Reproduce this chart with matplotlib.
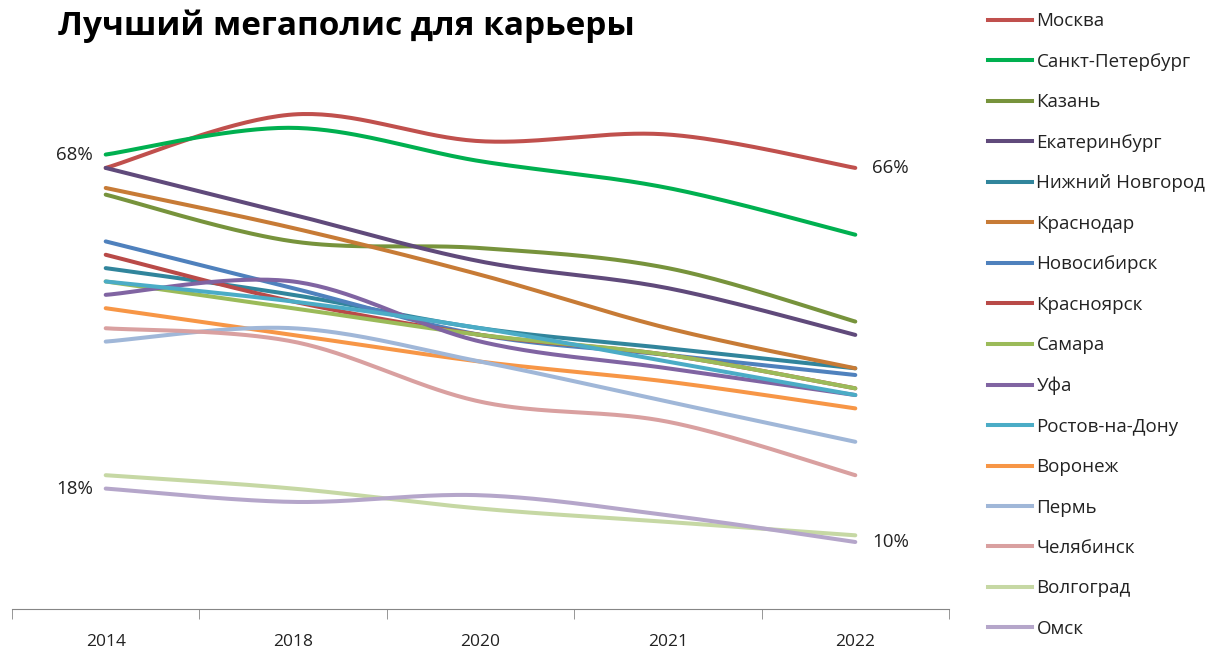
import numpy as np
import matplotlib
matplotlib.use("Agg")
import matplotlib.pyplot as plt
from matplotlib.lines import Line2D

plt.rcParams["font.family"] = ["Open Sans", "DejaVu Sans"]

# ── данные (%) ─────────────────────────────────────────────────────────────
years = ["2014", "2018", "2020", "2021", "2022"]

cities = [
    "Москва", "Санкт-Петербург", "Казань", "Екатеринбург", "Нижний Новгород",
    "Краснодар", "Новосибирск", "Красноярск", "Самара", "Уфа",
    "Ростов-на-Дону", "Воронеж", "Пермь", "Челябинск", "Волгоград", "Омск",
]

moscow      = [66, 74, 70, 71, 66]
spb         = [68, 72, 67, 63, 56]
kazan       = [62, 55, 54, 51, 43]
ekb         = [66, 59, 52, 48, 41]
nnov        = [51, 47, 42, 39, 36]
krasnodar   = [63, 57, 50, 42, 36]
novosib     = [55, 48, 41, 38, 35]
krasnoyarsk = [53, 46, 41, 38, 33]
samara      = [49, 45, 41, 38, 33]
ufa         = [47, 49, 40, 36, 32]
rostov      = [49, 46, 42, 37, 32]
voronezh    = [45, 41, 37, 34, 30]
perm        = [40, 42, 37, 31, 25]
chelyab     = [42, 40, 31, 28, 20]
volgograd   = [20, 18, 15, 13, 11]
omsk        = [18, 16, 17, 14, 10]

values = [moscow, spb, kazan, ekb, nnov, krasnodar, novosib, krasnoyarsk,
          samara, ufa, rostov, voronezh, perm, chelyab, volgograd, omsk]

colors = ["#C0504D", "#00B050", "#77933C", "#604A7B", "#31859C",
          "#C77B36", "#4F81BD", "#B94A48", "#9BBB59", "#8064A2",
          "#4BACC6", "#F79646", "#A0B7D8", "#D9A0A0", "#C6D8A4", "#B5A6CA"]


def smooth(xs, ys, n=40):
    """Сглаженная линия как в Excel (Безье через точки, касательные Catmull-Rom)."""
    p = np.column_stack([xs, ys]).astype(float)
    p = np.vstack([p[0], p, p[-1]])
    out = []
    t = np.linspace(0, 1, n)[:, None]
    for i in range(1, len(p) - 2):
        p0, p1, p2, p3 = p[i - 1], p[i], p[i + 1], p[i + 2]
        c1 = p1 + (p2 - p0) / 6
        c2 = p2 - (p3 - p1) / 6
        seg = (1 - t) ** 3 * p1 + 3 * (1 - t) ** 2 * t * c1 + 3 * (1 - t) * t ** 2 * c2 + t ** 3 * p2
        out.append(seg if i == 1 else seg[1:])
    out = np.vstack(out)
    return out[:, 0], out[:, 1]


W, H = 1218, 648
fig = plt.figure(figsize=(W / 100, H / 100), dpi=100)
ax = fig.add_axes([12 / W, 1 - 608.8 / H, (949 - 12) / W, (608.8 - 74.4) / H])

x = np.arange(len(years))
handles = []
for name, vals, col in zip(cities, values, colors):
    sx, sy = smooth(x, vals)
    ax.plot(sx, sy, color=col, lw=2.9, solid_capstyle="round")
    handles.append(Line2D([0], [0], color=col, lw=2.9, label=name))

ax.set_xlim(-0.5, len(years) - 0.5)
ax.set_ylim(0, 80)
for s in ["left", "right", "top"]:
    ax.spines[s].set_visible(False)
ax.spines["bottom"].set_color("#868686")
ax.set_yticks([])
ax.set_xticks(x)
ax.set_xticklabels(years, fontsize=12.5, color="#222222")
ax.set_xticks(np.arange(-0.5, len(years)), minor=True)
ax.tick_params(axis="x", which="major", length=0, pad=18)
ax.tick_params(axis="x", which="minor", length=7, color="#868686")

# подписи значений
lab = dict(fontsize=13.5, color="#222222", va="center", textcoords="offset points")
ax.annotate(f"{spb[0]}%", (0, spb[0]), xytext=(-9, 0), ha="right", **lab)
ax.annotate(f"{omsk[0]}%", (0, omsk[0]), xytext=(-9, 0), ha="right", **lab)
ax.annotate(f"{moscow[-1]}%", (4, moscow[-1]), xytext=(12, 0), ha="left", **lab)
ax.annotate(f"{omsk[-1]}%", (4, omsk[-1]), xytext=(12, 0), ha="left", **lab)

fig.text(58 / W, 1 - 26 / H, "Лучший мегаполис для карьеры", fontsize=24,
         fontweight="bold", va="center", ha="left", color="#000000")

fs = 13.5
fs_px = fs * 100 / 72
fig.legend(handles=handles, loc="upper left", bbox_to_anchor=(980 / W, 1 - 5 / H),
           frameon=False, fontsize=fs, handlelength=44 / fs_px,
           handletextpad=5 / fs_px, labelspacing=1.198, borderaxespad=0,
           labelcolor="#222222")

fig.savefig("out.png", dpi=100)
